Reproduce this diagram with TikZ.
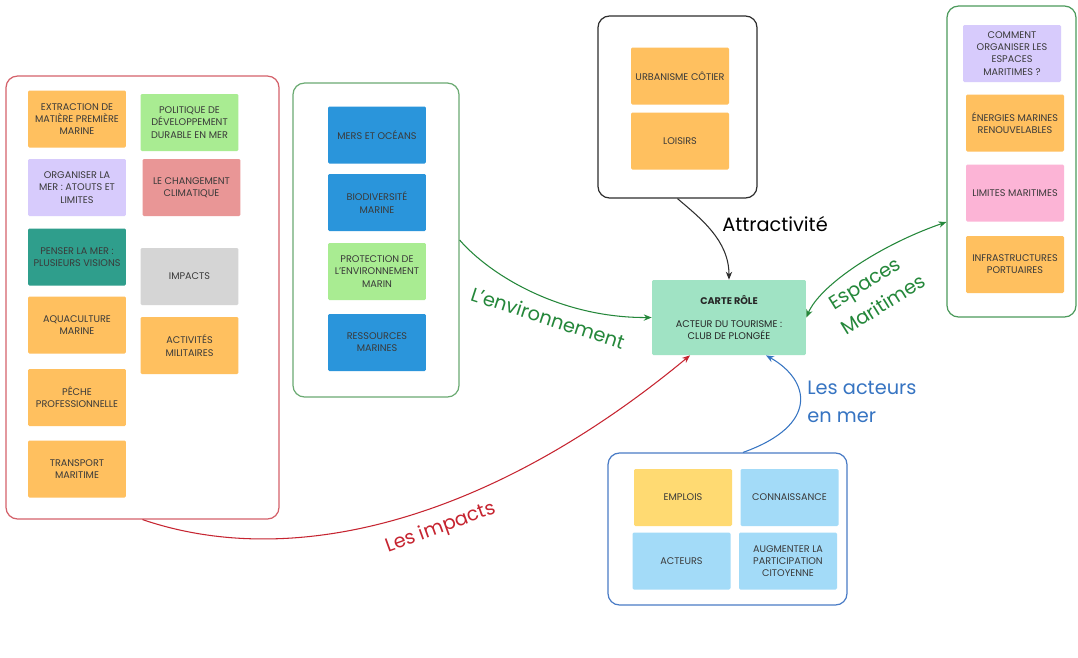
\documentclass[tikz,border=0pt]{standalone}
\usepackage{fontspec}
\setmainfont{Poppins}
\usetikzlibrary{arrows.meta,calc}
\definecolor{cOrange}{HTML}{FFC05F}
\definecolor{cLGreen}{HTML}{A9EC92}
\definecolor{cPurple}{HTML}{D7CBFC}
\definecolor{cRose}{HTML}{E99696}
\definecolor{cTeal}{HTML}{2F9E8C}
\definecolor{cGray}{HTML}{D5D5D5}
\definecolor{cBlue}{HTML}{2A95DB}
\definecolor{cPink}{HTML}{FCB4D6}
\definecolor{cLBlue}{HTML}{A3DBF8}
\definecolor{cYellow}{HTML}{FFDA72}
\definecolor{cMint}{HTML}{A0E3C4}
\definecolor{bRed}{HTML}{D4616A}
\definecolor{bGreen}{HTML}{6BAA72}
\definecolor{bGreenR}{HTML}{4C9A5C}
\definecolor{bBlack}{HTML}{2E2E2E}
\definecolor{bBlue}{HTML}{4A7CC6}
\definecolor{lGreen}{HTML}{24873A}
\definecolor{lRed}{HTML}{C62430}
\definecolor{lBlue}{HTML}{3674C2}
\definecolor{tDark}{HTML}{3A3A3A}
\tikzset{
  sticky/.style={rectangle, rounded corners=0.8pt, minimum width=1.96cm, minimum height=1.14cm,
    inner sep=0pt, align=center, text=tDark, font=\fontsize{5.5}{6.9}\selectfont},
  group/.style={rectangle, rounded corners=6.5pt, draw, line width=0.7pt, inner sep=0pt},
  conn/.style={line width=0.6pt, -{Stealth[length=4.5pt,width=3.6pt]}},
  biglabel/.style={font=\fontsize{11}{16}\selectfont, inner sep=0pt}
}
\begin{document}
\begin{tikzpicture}[x=0.02cm,y=-0.02cm]
\useasboundingbox[fill=white] (0,0) rectangle (1078,657);

% groups
\node[group, draw=bRed, minimum width=5.46cm, minimum height=8.86cm] (gleft) at (142.5,297.5) {};
\node[group, draw=bGreen, minimum width=3.32cm, minimum height=6.28cm] (gmid) at (376,240) {};
\node[group, draw=bBlack, minimum width=3.18cm, minimum height=3.64cm] (gtop) at (677.5,107) {};
\node[group, draw=bGreenR, minimum width=2.58cm, minimum height=6.22cm] (gright) at (1011.5,161.5) {};
\node[group, draw=bBlue, minimum width=4.78cm, minimum height=3.04cm] (gbot) at (727.5,529) {};

% left stickies
\node[sticky, fill=cOrange] (ext) at (77,119) {EXTRACTION DE\\MATIÈRE PREMIÈRE\\MARINE};
\node[sticky, fill=cLGreen] (pol) at (189.5,122.5) {POLITIQUE DE\\DÉVELOPPEMENT\\DURABLE EN MER};
\node[sticky, fill=cPurple] (org) at (77,187.5) {ORGANISER LA\\MER : ATOUTS ET\\LIMITES};
\node[sticky, fill=cRose] (chg) at (191.5,187.5) {LE CHANGEMENT\\CLIMATIQUE};
\node[sticky, fill=cTeal] (pen) at (77,257) {PENSER LA MER :\\PLUSIEURS VISIONS};
\node[sticky, fill=cGray] (imp) at (189.5,276.5) {IMPACTS};
\node[sticky, fill=cOrange] (aqu) at (77,325) {AQUACULTURE\\MARINE};
\node[sticky, fill=cOrange] (mil) at (189.5,345.5) {ACTIVITÉS\\MILITAIRES};
\node[sticky, fill=cOrange] (pec) at (77,397.5) {PÊCHE\\PROFESSIONNELLE};
\node[sticky, fill=cOrange] (tra) at (77,469) {TRANSPORT\\MARITIME};

% middle stickies
\node[sticky, fill=cBlue] (mers) at (377,135) {MERS ET OCÉANS};
\node[sticky, fill=cBlue] (bio) at (377,202.5) {BIODIVERSITÉ\\MARINE};
\node[sticky, fill=cLGreen] (pro) at (377,271.5) {PROTECTION DE\\L'ENVIRONNEMENT\\MARIN};
\node[sticky, fill=cBlue] (res) at (377,342.5) {RESSOURCES\\MARINES};

% top stickies
\node[sticky, fill=cOrange] (urb) at (680,76) {URBANISME CÔTIER};
\node[sticky, fill=cOrange] (loi) at (680,141) {LOISIRS};

% right stickies
\node[sticky, fill=cPurple] (com) at (1012,53.5) {COMMENT\\ORGANISER LES\\ESPACES\\MARITIMES ?};
\node[sticky, fill=cOrange] (ene) at (1015,123) {ÉNERGIES MARINES\\RENOUVELABLES};
\node[sticky, fill=cPink] (lim) at (1015,193) {LIMITES MARITIMES};
\node[sticky, fill=cOrange] (inf) at (1015,264.5) {INFRASTRUCTURES\\PORTUAIRES};

% bottom stickies
\node[sticky, fill=cYellow] (emp) at (683,497.5) {EMPLOIS};
\node[sticky, fill=cLBlue] (con) at (789.5,497.5) {CONNAISSANCE};
\node[sticky, fill=cLBlue] (acteurs) at (681.5,561) {ACTEURS};
\node[sticky, fill=cLBlue] (aug) at (788,561) {AUGMENTER LA\\PARTICIPATION\\CITOYENNE};

% center card
\node[sticky, fill=cMint, minimum width=3.08cm, minimum height=1.5cm, text=black!85] (carte) at (729,317.5)
  {\textbf{CARTE RÔLE}\\[6.6pt]ACTEUR DU TOURISME :\\CLUB DE PLONGÉE};

% connectors
\draw[conn, draw=bBlack] (gtop.south) .. controls (700,218) and (729,240) .. (carte.north);
\draw[conn, draw=lGreen] (gmid.east) .. controls (490,275) and (560,318) .. (carte.west);
\draw[conn, draw=lGreen, {Stealth[length=4.5pt,width=3.6pt]}-{Stealth[length=4.5pt,width=3.6pt]}]
  (carte.east) .. controls (820,285) and (880,245) .. ([yshift=-1.21cm]gright.west);
\draw[conn, draw=lRed] (gleft.south) .. controls (293,571) and (490,521) .. ([xshift=-0.78cm]carte.south);
\draw[conn, draw=lBlue] ([xshift=0.31cm]gbot.north) .. controls (820,425) and (810,380) .. ([xshift=0.74cm]carte.south);

% labels
\node[biglabel, text=black] (lattr) at (775,224) {Attractivité};
\node[biglabel, text=lGreen, rotate=-18] (lenv) at (548,318) {L'environnement};
\node[biglabel, text=lGreen, rotate=32, align=left] (lesp) at (877,292) {Espaces\\\hspace*{-2pt}Maritimes};
\node[biglabel, text=lRed, rotate=20] (limp) at (441,528) {Les impacts};
\node[biglabel, text=lBlue, align=left, anchor=north west] (lact) at (807,381) {Les acteurs\\en mer};
\end{tikzpicture}
\end{document}
